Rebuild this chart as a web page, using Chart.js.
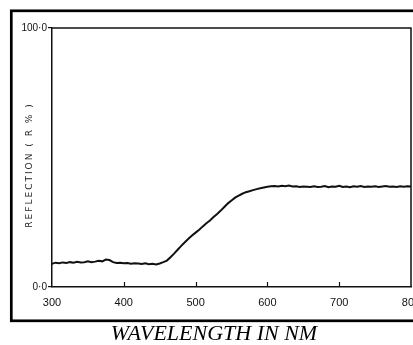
<!DOCTYPE html>
<html>
<head>
<meta charset="utf-8">
<script src="https://cdn.jsdelivr.net/npm/chart.js@4"></script>
<style>
  body { margin: 0; background: #fff; }
</style>
</head>
<body>
<canvas id="myChart" width="413" height="345"></canvas>
<script>
// wavelength (nm) and reflection (%)
const wavelengths = [
  300, 305, 310, 315, 320, 325, 330, 335, 340, 345,
  350, 355, 360, 365, 370, 375, 380, 385, 390, 395,
  400, 405, 410, 415, 420, 425, 430, 435, 440, 445,
  450, 455, 460, 465, 470, 475, 480, 485, 490, 495,
  500, 505, 510, 515, 520, 525, 530, 535, 540, 545,
  550, 555, 560, 565, 570, 575, 580, 585, 590, 595,
  600, 605, 610, 615, 620, 625, 630, 635, 640, 645,
  650, 655, 660, 665, 670, 675, 680, 685, 690, 695,
  700, 705, 710, 715, 720, 725, 730, 735, 740, 745,
  750, 755, 760, 765, 770, 775, 780, 785, 790, 795,
  800
];
const reflection = [
  9.0, 9.4, 9.2, 9.5, 9.3, 9.6, 9.4, 9.7, 9.5, 9.6,
  9.9, 9.6, 9.8, 10.1, 9.9, 10.6, 10.4, 9.6, 9.3, 9.4,
  9.2, 9.3, 9.0, 9.2, 9.1, 8.9, 9.2, 8.8, 9.0, 8.7,
  9.1, 9.6, 10.2, 11.5, 12.9, 14.4, 15.9, 17.3, 18.6, 19.9,
  21.0, 22.1, 23.4, 24.6, 25.7, 27.0, 28.2, 29.5, 30.9, 32.3,
  33.4, 34.5, 35.3, 36.0, 36.6, 37.0, 37.4, 37.8, 38.1, 38.4,
  38.7, 38.9, 39.0, 38.8, 39.1, 38.9, 39.2, 38.8, 38.9, 38.6,
  38.8, 38.7, 38.6, 38.9, 38.6, 38.7, 39.0, 38.5, 38.8, 38.7,
  39.1, 38.6, 38.8, 38.5, 38.9, 38.7, 39.0, 38.6, 38.8, 38.7,
  38.9, 38.6, 38.8, 39.0, 38.7, 38.8, 38.6, 38.9, 38.7, 38.9,
  38.8
];
const xTickValues = [300, 400, 500, 600, 700, 800];
const yTickValues = [0, 100];

// frame, inward x ticks, outer border and y title
const decorations = {
  id: "decorations",
  afterDraw(chart) {
    const ctx = chart.ctx;
    const area = chart.chartArea;
    const xScale = chart.scales.x;
    ctx.save();
    ctx.strokeStyle = "#111";
    ctx.lineWidth = 1.5;
    ctx.beginPath();
    ctx.moveTo(area.left, area.top);
    ctx.lineTo(area.right, area.top);
    ctx.lineTo(area.right, area.bottom);
    ctx.stroke();

    ctx.lineWidth = 1.2;
    xTickValues.slice(1, -1).forEach(function (v) {
      const px = Math.round(xScale.getPixelForValue(v)) + 0.5;
      ctx.beginPath();
      ctx.moveTo(px, area.bottom);
      ctx.lineTo(px, area.bottom - 5);
      ctx.stroke();
    });

    ctx.lineWidth = 2.7;
    ctx.strokeStyle = "#000";
    ctx.strokeRect(11.3, 10.8, 430, 310);

    ctx.translate(30, 165);
    ctx.rotate(-Math.PI / 2);
    ctx.fillStyle = "#222";
    ctx.font = "9px 'DejaVu Sans'";
    ctx.letterSpacing = "2px";
    ctx.textAlign = "center";
    ctx.textBaseline = "middle";
    ctx.fillText("REFLECTION ( R % )", 0, 0);
    ctx.restore();
  },
};

const ctx = document.getElementById("myChart").getContext("2d");
new Chart(ctx, {
  type: "line",
  data: {
    labels: wavelengths,
    datasets: [
      {
        data: reflection,
        borderColor: "#111",
        borderWidth: 2,
        pointRadius: 0,
        tension: 0,
        fill: false,
      },
    ],
  },
  plugins: [decorations],
  options: {
    responsive: false,
    animation: false,
    layout: { padding: { left: 17, top: 28, right: 2, bottom: 0 } },
    plugins: {
      legend: { display: false },
      tooltip: { enabled: false },
      title: {
        display: true,
        position: "bottom",
        text: "WAVELENGTH IN NM",
        color: "#000",
        padding: { top: 0, bottom: 0 },
        font: { family: "'Liberation Serif'", style: "italic", weight: "normal", size: 22, lineHeight: 1 },
      },
    },
    scales: {
      x: {
        type: "linear",
        min: 300,
        max: 800,
        afterBuildTicks: (scale) => {
          scale.ticks = xTickValues.map((v) => ({ value: v }));
        },
        afterFit: (scale) => {
          scale.height = 36;
          scale.paddingLeft = 0;
          scale.paddingRight = 0;
        },
        grid: { display: false, drawTicks: false },
        border: { display: true, color: "#111", width: 1.5 },
        ticks: {
          color: "#111",
          padding: 9,
          maxRotation: 0,
          font: { family: "'Liberation Sans'", size: 11 },
        },
      },
      y: {
        type: "linear",
        min: 0,
        max: 100,
        afterBuildTicks: (scale) => {
          scale.ticks = yTickValues.map((v) => ({ value: v }));
        },
        afterFit: (scale) => {
          scale.width = 35;
          scale.paddingTop = 0;
          scale.paddingBottom = 0;
        },
        grid: { drawOnChartArea: false, drawTicks: true, tickLength: 4, color: "#111", lineWidth: 1.2 },
        border: { display: true, color: "#111", width: 1.5 },
        ticks: {
          color: "#111",
          padding: 1,
          font: { family: "'Liberation Sans'", size: 10 },
          callback: (v) => v.toFixed(1).replace(".", "·"),
        },
      },
    },
  },
});
</script>
</body>
</html>
